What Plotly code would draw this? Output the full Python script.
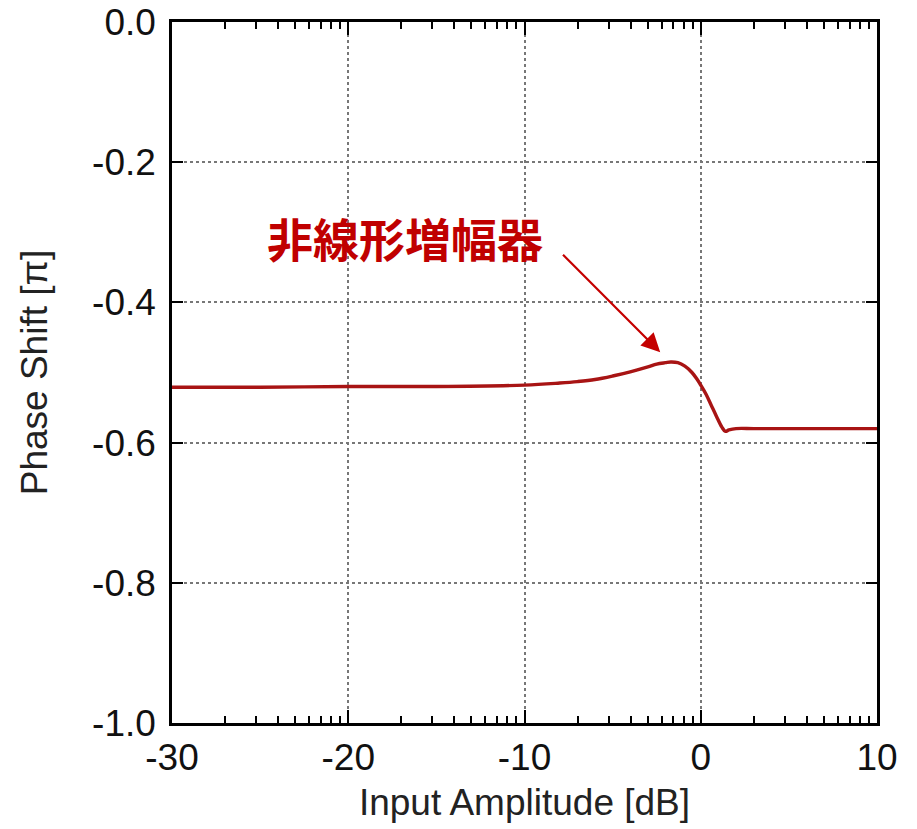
import plotly.graph_objects as go
import numpy as np

# Data
input_db = [-30, -25, -20, -15, -10, -8, -7, -6, -5, -4, -3, -2.5, -2, -1.7, -1.3, -0.9,
            -0.5, -0.2, 0, 0.3, 0.6, 0.9, 1.2, 1.4, 1.6, 2, 3, 5, 7, 10]
phase_shift = [-0.521, -0.521, -0.520, -0.520, -0.518, -0.515, -0.513, -0.510, -0.505,
               -0.499, -0.492, -0.488, -0.486, -0.485, -0.486, -0.491, -0.500, -0.510,
               -0.518, -0.531, -0.547, -0.563, -0.578, -0.584, -0.582, -0.580, -0.580,
               -0.580, -0.580, -0.580]
x_tick_db = [-30, -20, -10, 0, 10]
y_ticks = [0.0, -0.2, -0.4, -0.6, -0.8, -1.0]
label_text = "非線形増幅器"
label_pos_db = -16.8
label_y = -0.307
arrow_tip_db, arrow_tip_y = -2.3, -0.471
arrow_tail_db, arrow_tail_y = -7.9, -0.330

lin = lambda d: 10 ** (np.asarray(d, dtype=float) / 10.0)

fig = go.Figure()
fig.add_trace(go.Scatter(
    x=lin(input_db), y=phase_shift, mode="lines",
    line=dict(color="#a81414", width=3.4, shape="spline", smoothing=1.0),
    showlegend=False, hoverinfo="skip"))

font_family = "Liberation Sans, Arial, Helvetica, sans-serif"

fig.update_xaxes(
    type="log", range=[-3, 1], automargin=False,
    tickmode="array", tickvals=lin(x_tick_db), ticktext=[str(t) for t in x_tick_db],
    ticks="inside", ticklen=13, tickwidth=2, tickcolor="black",
    showline=True, linecolor="black", linewidth=2.5, mirror="ticks",
    showgrid=True, gridcolor="#777777", griddash="dot", gridwidth=1.5,
    minor=dict(ticks="inside", ticklen=7, tickwidth=1.8, tickcolor="black",
               dtick="D1", showgrid=False),
    tickfont=dict(size=37, color="#111111", family=font_family),
    title=dict(text="Input Amplitude [dB]", standoff=12,
               font=dict(size=37, color="#222222", family=font_family)),
    zeroline=False,
)
fig.update_yaxes(
    range=[-1.0, 0.0], automargin=False, tickmode="array", tickvals=y_ticks,
    ticktext=[f"{v:.1f}" for v in y_ticks],
    ticks="inside", ticklen=11, tickwidth=2, tickcolor="black",
    showline=True, linecolor="black", linewidth=2.5, mirror="ticks",
    showgrid=True, gridcolor="#777777", griddash="dot", gridwidth=1.5,
    tickfont=dict(size=37, color="#111111", family=font_family),
    ticklabelstandoff=6,
    title=dict(text="Phase Shift [π]", standoff=34,
               font=dict(size=37, color="#222222", family=font_family)),
    zeroline=False,
)

fig.add_annotation(
    x=arrow_tip_db / 10.0, y=arrow_tip_y, xref="x", yref="y",
    ax=arrow_tail_db / 10.0, ay=arrow_tail_y, axref="x", ayref="y",
    text="", showarrow=True, arrowhead=2, arrowsize=1.7, arrowwidth=2.2,
    arrowcolor="#c40000")
fig.add_annotation(
    x=label_pos_db / 10.0, y=label_y, xref="x", yref="y",
    text=f"<b>{label_text}</b>", showarrow=False,
    font=dict(size=46, color="#c00000", family="Noto Sans CJK JP"))

fig.update_layout(
    width=917, height=829,
    margin=dict(l=172, r=40, t=22, b=106),
    paper_bgcolor="white", plot_bgcolor="white",
)

fig.write_html("out.html")
